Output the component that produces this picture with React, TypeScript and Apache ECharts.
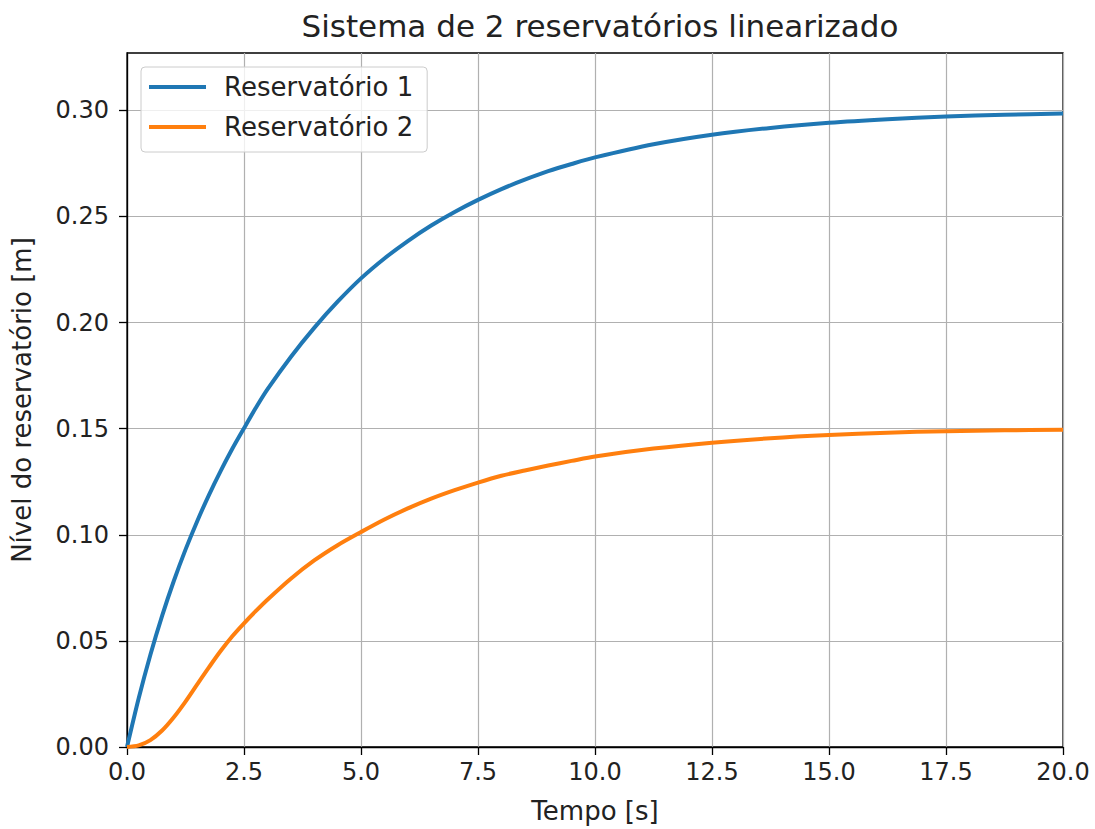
import React, { useEffect, useRef } from "react";
import * as echarts from "echarts";

const tempo = [0, 0.25, 0.5, 0.75, 1, 1.25, 1.5, 1.75, 2, 2.25, 2.5, 2.75, 3, 3.5, 4, 4.5, 5, 5.5, 6, 6.5, 7, 7.5, 8, 8.5, 9, 9.5, 10, 11.25, 12.5, 13.75, 15, 16.25, 17.5, 18.75, 20];
const reservatorio1 = [0, 0.023, 0.0435, 0.0618, 0.0782, 0.093, 0.1064, 0.1187, 0.13, 0.1405, 0.1502, 0.1597, 0.1685, 0.1838, 0.1975, 0.2098, 0.2208, 0.2302, 0.2384, 0.2457, 0.2521, 0.2578, 0.2629, 0.2673, 0.2713, 0.2747, 0.2778, 0.284, 0.2885, 0.2917, 0.2941, 0.2958, 0.2971, 0.2979, 0.2985];
const reservatorio2 = [0, 0.00075, 0.00325, 0.00775, 0.014, 0.0214, 0.0295, 0.0375, 0.0452, 0.0522, 0.0583, 0.064, 0.0694, 0.0793, 0.0879, 0.0951, 0.1013, 0.1072, 0.1124, 0.117, 0.121, 0.1246, 0.1278, 0.1303, 0.1326, 0.1348, 0.1369, 0.1406, 0.1434, 0.1455, 0.147, 0.1481, 0.1488, 0.1492, 0.1495];
const xTicks = [0, 2.5, 5, 7.5, 10, 12.5, 15, 17.5, 20];
const yTicks = [0, 0.05, 0.1, 0.15, 0.2, 0.25, 0.3];
const seriesNames = ["Reservatório 1", "Reservatório 2"];
const colors = ["#1f77b4", "#ff7f0e"];

const FONT = "DejaVu Sans";

export default function App() {
  const ref = useRef<HTMLDivElement>(null);
  useEffect(() => {
    if (!ref.current) return;
    const chart = echarts.init(ref.current, null, { renderer: "svg" });
    const mk = (vals: number[]) => tempo.map((t, i) => [t, vals[i]]);
    const lineSeries = (i: number, vals: number[]) => ({
      name: seriesNames[i],
      type: "line",
      data: mk(vals),
      showSymbol: false,
      smooth: 0.3,
      color: colors[i],
      lineStyle: { width: 4, color: colors[i] },
      clip: false,
      z: 3,
    });
    chart.setOption({
      animation: false,
      backgroundColor: "#ffffff",
      title: {
        text: "Sistema de 2 reservatórios linearizado",
        left: 595,
        top: 5,
        textAlign: "center",
        textStyle: { fontFamily: FONT, fontSize: 31, fontWeight: "normal", color: "#222" },
      },
      legend: {
        orient: "vertical",
        left: 141,
        top: 67,
        padding: [7, 14, 12, 8],
        itemGap: 14,
        itemWidth: 57,
        itemHeight: 4,
        icon: "rect",
        borderColor: "#cccccc",
        borderWidth: 1,
        borderRadius: 4,
        backgroundColor: "rgba(255,255,255,0.8)",
        textStyle: { fontFamily: FONT, fontSize: 26, color: "#222", padding: [0, 0, 0, 13], lineHeight: 26 },
        data: seriesNames,
      },
      grid: { left: 127, right: 32, top: 53, bottom: 81, show: true, borderColor: "#000", borderWidth: 1.3, backgroundColor: "transparent" },
      xAxis: {
        type: "value",
        min: 0,
        max: 20,
        interval: 2.5,
        name: "Tempo [s]",
        nameLocation: "middle",
        nameGap: 51,
        nameTextStyle: { fontFamily: FONT, fontSize: 26, color: "#222" },
        axisLine: { show: true, onZero: false, lineStyle: { color: "#000", width: 1.3 } },
        axisTick: { show: true, length: 8, lineStyle: { color: "#000", width: 1.3 } },
        axisLabel: { fontFamily: FONT, fontSize: 24, color: "#222", margin: 13, formatter: (v: number) => v.toFixed(1), customValues: xTicks },
        splitLine: { show: true, lineStyle: { color: "#b0b0b0", width: 1.2 } },
      },
      yAxis: {
        type: "value",
        min: 0,
        max: 0.327,
        interval: 0.05,
        name: "Nível do reservatório [m]",
        nameLocation: "middle",
        nameGap: 92,
        nameTextStyle: { fontFamily: FONT, fontSize: 26, color: "#222" },
        axisLine: { show: true, onZero: false, lineStyle: { color: "#000", width: 1.3 } },
        axisTick: { show: true, length: 8, lineStyle: { color: "#000", width: 1.3 }, customValues: yTicks },
        axisLabel: { fontFamily: FONT, fontSize: 24, color: "#222", margin: 18, formatter: (v: number) => v.toFixed(2), customValues: yTicks },
        splitLine: { show: true, lineStyle: { color: "#b0b0b0", width: 1.2 } },
      },
      series: [lineSeries(0, reservatorio1), lineSeries(1, reservatorio2)],
    });
    return () => chart.dispose();
  }, []);
  return <div ref={ref} style={{ position: "fixed", left: 0, top: 0, width: 1095, height: 829 }} />;
}
